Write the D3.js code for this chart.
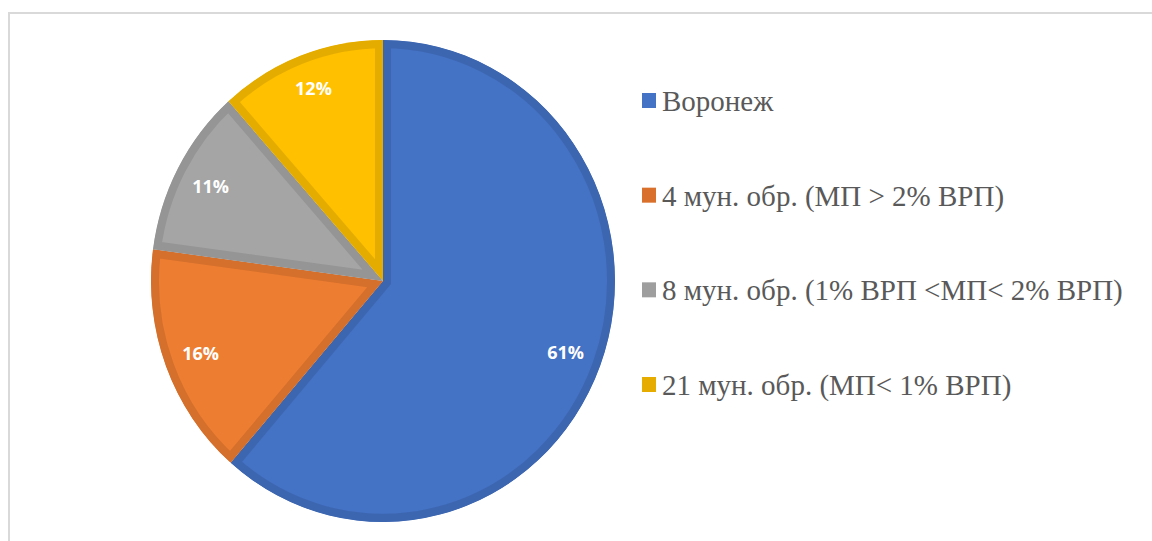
<!DOCTYPE html>
<html>
<head>
<meta charset="utf-8">
<script src="https://cdn.jsdelivr.net/npm/d3@7"></script>
<style>
  html, body { margin: 0; padding: 0; background: #ffffff; }
  svg { display: block; }
</style>
</head>
<body>
<svg id="chart" width="1152" height="541"></svg>
<script>
const categories = [
  "Воронеж",
  "4 мун. обр. (МП > 2% ВРП)",
  "8 мун. обр. (1% ВРП <МП< 2% ВРП)",
  "21 мун. обр. (МП< 1% ВРП)"
];
const values = [61.4, 15.7, 11.3, 11.6];
const labels = ["61%", "16%", "11%", "12%"];
const fillColors = ["#4472C4", "#ED7D31", "#A5A5A5", "#FFC000"];
const borderColors = ["#3D66B0", "#D4702C", "#959595", "#E5AC00"];
const legendColors = ["#4472C4", "#D9702C", "#9E9E9E", "#E6AD00"];

const svg = d3.select("#chart");

// chart frame
svg.append("rect")
  .attr("x", 9).attr("y", 13)
  .attr("width", 1160).attr("height", 560)
  .attr("fill", "none")
  .attr("stroke", "#D9D9D9")
  .attr("stroke-width", 2);

const cx = 383, cy = 281, r = 232, sy = 241 / 232;

const pie = d3.pie().sort(null).value(d => d)(values);
const arc = d3.arc().innerRadius(0).outerRadius(r);
const labelArc = d3.arc().innerRadius(195).outerRadius(195);

const defs = svg.append("defs");
const g = svg.append("g").attr("transform", `translate(${cx},${cy}) scale(1,${sy})`);

pie.forEach((p, i) => {
  defs.append("clipPath").attr("id", "clip" + i)
    .append("path").attr("d", arc(p));
  g.append("path")
    .attr("d", arc(p))
    .attr("fill", fillColors[i])
    .attr("stroke", borderColors[i])
    .attr("stroke-width", 16)
    .attr("stroke-linejoin", "miter")
    .attr("clip-path", `url(#clip${i})`);
});

// data labels
pie.forEach((p, i) => {
  const c = labelArc.centroid(p);
  svg.append("text")
    .attr("x", cx + c[0])
    .attr("y", cy + c[1] * sy + (i === 3 ? -4 : 0))
    .attr("text-anchor", "middle")
    .attr("dominant-baseline", "central")
    .attr("font-family", "'Open Sans', sans-serif")
    .attr("font-weight", "bold")
    .attr("font-size", 18)
    .attr("fill", "#FFFFFF")
    .text(labels[i]);
});

// legend
const legendY = d3.scalePoint().domain(categories).range([111, 395]);
const lg = svg.append("g");
categories.forEach((c, i) => {
  const y = legendY(c);
  lg.append("rect")
    .attr("x", 642).attr("y", y - 18)
    .attr("width", 14).attr("height", 15)
    .attr("fill", legendColors[i]);
  lg.append("text")
    .attr("x", 662).attr("y", y)
    .attr("font-family", "'Liberation Serif', 'Times New Roman', serif")
    .attr("font-size", 29)
    .attr("fill", "#595959")
    .text(c);
});
</script>
</body>
</html>
